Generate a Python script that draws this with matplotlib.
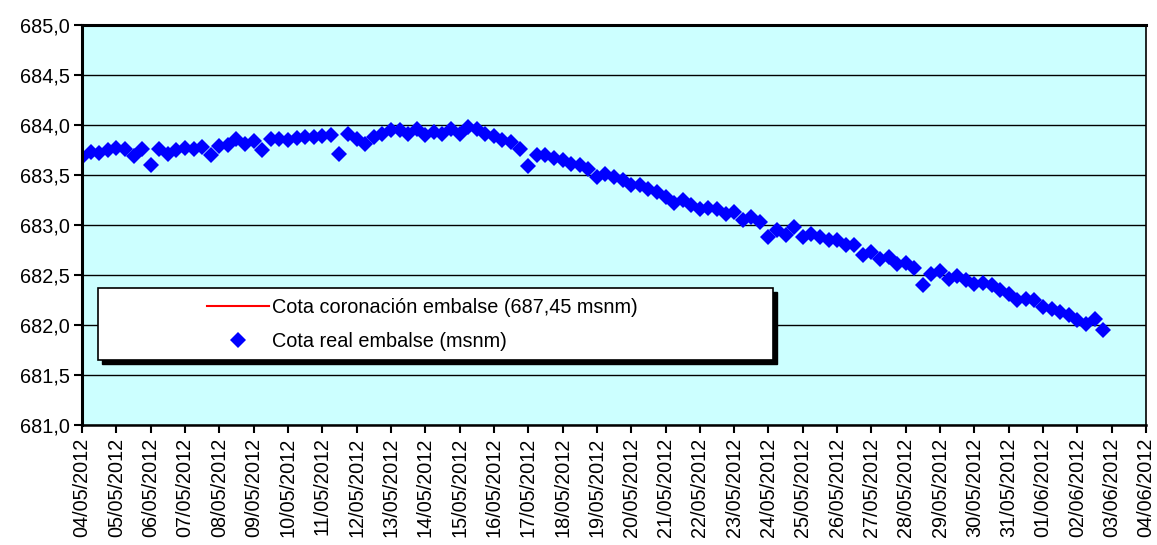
import numpy as np
import pandas as pd
import matplotlib
matplotlib.use("Agg")
import matplotlib.pyplot as plt
import matplotlib.dates as mdates
from matplotlib.patches import FancyBboxPatch
from matplotlib.ticker import FuncFormatter, MultipleLocator

plt.rcParams["font.family"] = ["Liberation Sans", "DejaVu Sans"]

# lecturas cada 6 horas desde el 04/05/2012
inicio = "2012-05-04 00:00"
cota_real = [
    683.68, 683.73, 683.72, 683.75, 683.77, 683.76, 683.69, 683.76, 683.60, 683.76,
    683.71, 683.75, 683.77, 683.76, 683.78, 683.70, 683.79, 683.80, 683.86, 683.81,
    683.84, 683.75, 683.86, 683.86, 683.85, 683.87, 683.88, 683.88, 683.885, 683.895,
    683.71, 683.91, 683.86, 683.81, 683.88, 683.905, 683.945, 683.945, 683.91, 683.96,
    683.895, 683.93, 683.91, 683.96, 683.91, 683.98, 683.96, 683.91, 683.89, 683.845,
    683.83, 683.76, 683.59, 683.70, 683.695, 683.67, 683.645, 683.61, 683.595, 683.56,
    683.48, 683.51, 683.48, 683.445, 683.395, 683.395, 683.36, 683.33, 683.28, 683.22,
    683.245, 683.195, 683.16, 683.17, 683.16, 683.11, 683.13, 683.045, 683.08, 683.03,
    682.88, 682.945, 682.90, 682.98, 682.88, 682.91, 682.88, 682.845, 682.845, 682.795,
    682.80, 682.695, 682.73, 682.66, 682.68, 682.61, 682.62, 682.57, 682.395, 682.51,
    682.535, 682.46, 682.49, 682.445, 682.41, 682.42, 682.40, 682.345, 682.31, 682.245,
    682.26, 682.245, 682.18, 682.16, 682.13, 682.095, 682.045, 682.01, 682.055, 681.945,
]
cota_coronacion = 687.45
fechas = pd.date_range(inicio, periods=len(cota_real), freq="6h")

fig = plt.figure(figsize=(11.57, 5.45), dpi=100)
ax = fig.add_axes([0.0709, 0.2202, 0.9196, 0.7348])
ax.set_facecolor("#CCFFFF")

ax.plot(fechas, [cota_coronacion] * len(fechas), color="red", lw=1.5,
        label="Cota coronación embalse (687,45 msnm)")
ax.plot(fechas, cota_real, linestyle="none", marker="D", markersize=8.2,
        color="#0000FF", markeredgewidth=0, label="Cota real embalse (msnm)")

ax.set_ylim(681.0, 685.0)
ax.yaxis.set_major_locator(MultipleLocator(0.5))
ax.yaxis.set_major_formatter(FuncFormatter(lambda v, p: f"{v:.1f}".replace(".", ",")))
ax.grid(axis="y", color="black", lw=1.0)
ax.set_axisbelow(True)

ax.set_xlim(pd.Timestamp("2012-05-04"), pd.Timestamp("2012-06-04"))
ax.xaxis.set_major_locator(mdates.DayLocator())
ax.xaxis.set_major_formatter(mdates.DateFormatter("%d/%m/%Y"))
plt.setp(ax.get_xticklabels(), rotation=90)

ax.tick_params(labelsize=14.3, length=6, width=1.5, color="black", pad=3)
for s in ax.spines.values():
    s.set_color("black")
    s.set_linewidth(1.2)
ax.spines["left"].set_linewidth(2.2)
ax.spines["top"].set_linewidth(2.2)
ax.spines["bottom"].set_linewidth(1.8)

# recuadro de leyenda con sombra, estilo Excel
caja = dict(x=0.015, y=0.162, w=0.634, h=0.18)
sombra = FancyBboxPatch((caja["x"] + 0.004, caja["y"] - 0.009), caja["w"], caja["h"],
                        boxstyle="square,pad=0", transform=ax.transAxes,
                        facecolor="black", edgecolor="black", zorder=4)
fondo = FancyBboxPatch((caja["x"], caja["y"]), caja["w"], caja["h"],
                       boxstyle="square,pad=0", transform=ax.transAxes,
                       facecolor="white", edgecolor="black", lw=1.2, zorder=5)
ax.add_patch(sombra)
ax.add_patch(fondo)
leg = ax.legend(loc="center", bbox_to_anchor=(caja["x"] + caja["w"] / 2 - 0.012,
                                              caja["y"] + caja["h"] / 2),
                frameon=False, fontsize=14.3, handlelength=3.1, handletextpad=0.15,
                labelspacing=0.75, markerscale=1.0)
leg.set_zorder(6)

fig.savefig("out.png", dpi=100)
